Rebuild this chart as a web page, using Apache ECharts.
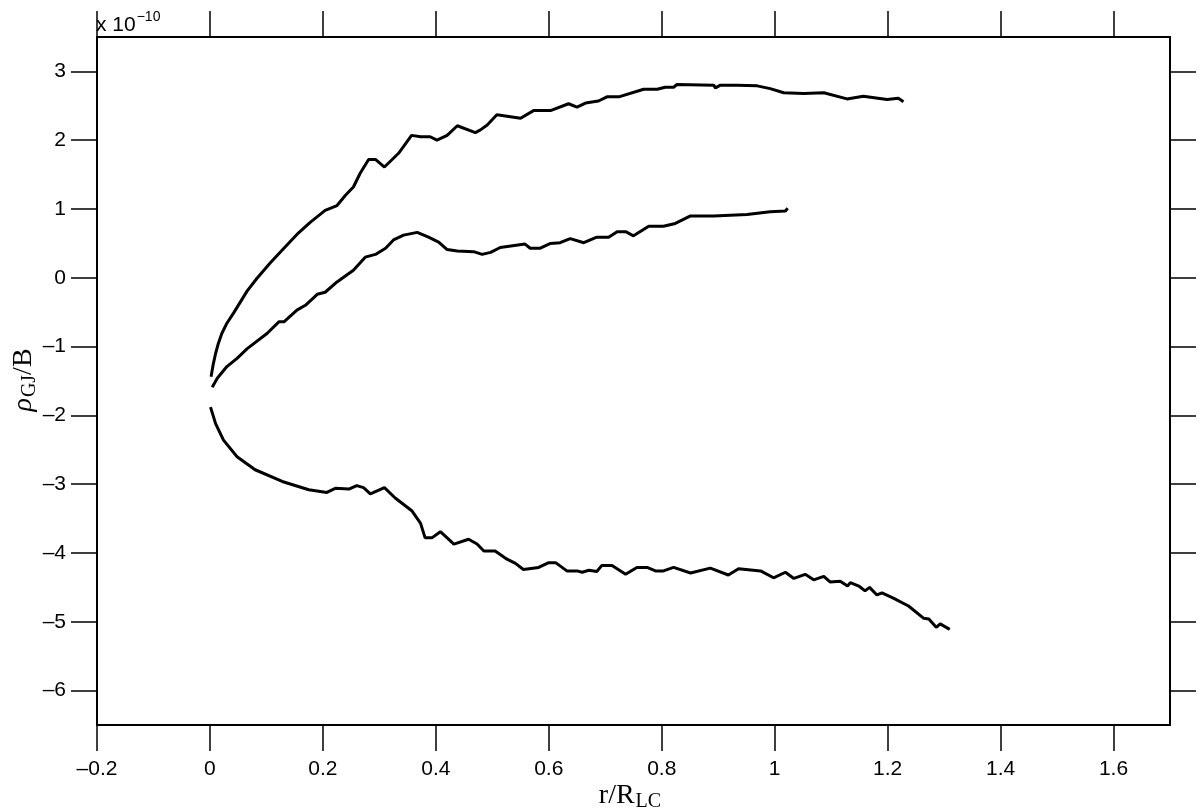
<!DOCTYPE html>
<html>
<head>
<meta charset="utf-8">
<title>rho_GJ / B</title>
<script src="https://cdn.jsdelivr.net/npm/echarts@6/dist/echarts.min.js"></script>
<style>
  html, body { margin: 0; padding: 0; background: #fff; }
  #chart { width: 1200px; height: 811px; }
</style>
</head>
<body>
<div id="chart"></div>
<script>
// values in units of 1e-10
const upperX = [0.002,0.0055,0.010,0.015,0.021,0.030,0.042,0.054,0.066,0.083,0.107,0.131,0.154,0.178,0.204,0.225,0.240,0.254,0.266,0.281,0.293,0.309,0.334,0.357,0.373,0.390,0.402,0.420,0.438,0.470,0.479,0.491,0.508,0.550,0.573,0.603,0.635,0.650,0.665,0.688,0.703,0.724,0.768,0.792,0.806,0.821,0.827,0.892,0.895,0.904,0.933,0.969,0.992,1.016,1.051,1.087,1.128,1.157,1.199,1.219,1.228]
const upperY = [-1.44,-1.27,-1.10,-0.95,-0.81,-0.66,-0.51,-0.35,-0.19,-0.01,0.22,0.43,0.63,0.81,0.98,1.05,1.20,1.32,1.52,1.72,1.72,1.61,1.81,2.07,2.05,2.05,2.00,2.07,2.21,2.11,2.15,2.22,2.37,2.32,2.43,2.43,2.53,2.48,2.54,2.57,2.63,2.63,2.74,2.74,2.77,2.77,2.81,2.80,2.76,2.80,2.80,2.79,2.75,2.69,2.68,2.69,2.60,2.64,2.59,2.61,2.56]

const middleX = [0.004,0.013,0.030,0.048,0.066,0.101,0.122,0.131,0.154,0.169,0.190,0.204,0.225,0.254,0.275,0.293,0.311,0.325,0.343,0.367,0.387,0.405,0.420,0.438,0.467,0.482,0.497,0.514,0.558,0.567,0.585,0.603,0.620,0.638,0.662,0.685,0.706,0.721,0.736,0.750,0.777,0.803,0.824,0.851,0.892,0.951,0.992,1.019,1.023]
const middleY = [-1.59,-1.46,-1.29,-1.17,-1.03,-0.81,-0.64,-0.64,-0.47,-0.40,-0.24,-0.21,-0.06,0.11,0.30,0.34,0.43,0.55,0.62,0.66,0.59,0.52,0.41,0.39,0.38,0.34,0.37,0.44,0.49,0.43,0.43,0.50,0.51,0.57,0.51,0.59,0.59,0.67,0.67,0.61,0.75,0.75,0.79,0.90,0.90,0.92,0.96,0.97,1.01]

const lowerX = [0.001,0.010,0.024,0.048,0.080,0.128,0.175,0.207,0.222,0.246,0.260,0.272,0.284,0.309,0.328,0.358,0.373,0.381,0.393,0.408,0.432,0.458,0.473,0.485,0.505,0.526,0.541,0.555,0.582,0.600,0.612,0.632,0.650,0.659,0.671,0.685,0.694,0.712,0.736,0.756,0.774,0.789,0.803,0.821,0.851,0.886,0.918,0.936,0.975,0.998,1.019,1.034,1.054,1.069,1.087,1.098,1.116,1.129,1.134,1.149,1.160,1.168,1.181,1.190,1.211,1.237,1.264,1.273,1.286,1.293,1.310]
const lowerY = [-1.88,-2.12,-2.36,-2.60,-2.79,-2.96,-3.08,-3.12,-3.06,-3.07,-3.02,-3.05,-3.14,-3.05,-3.20,-3.39,-3.57,-3.78,-3.78,-3.69,-3.87,-3.80,-3.87,-3.97,-3.97,-4.09,-4.15,-4.24,-4.21,-4.14,-4.14,-4.26,-4.26,-4.28,-4.25,-4.27,-4.18,-4.18,-4.31,-4.21,-4.21,-4.26,-4.26,-4.21,-4.29,-4.22,-4.32,-4.23,-4.26,-4.36,-4.28,-4.37,-4.31,-4.39,-4.34,-4.42,-4.41,-4.48,-4.43,-4.48,-4.55,-4.50,-4.61,-4.58,-4.66,-4.77,-4.95,-4.96,-5.08,-5.03,-5.11]

const xTicks = [-0.2,0,0.2,0.4,0.6,0.8,1,1.2,1.4,1.6]
const yTicks = [-6,-5,-4,-3,-2,-1,0,1,2,3]

function pairs(xs, ys){
  let out = []
  for(let i=0;i<xs.length;i++){
    out.push([xs[i], ys[i]])
  }
  return out
}

function fmt(v){
  return String(v).replace('-', '\u2013')
}

const labelFont = {
  color: '#000',
  fontFamily: 'Liberation Sans, Arial, Helvetica, sans-serif',
  fontSize: 21
}

function axisBase(showLabel, margin, ticks){
  return {
    type: 'value',
    axisLine: { show: true, onZero: false, lineStyle: { color: '#000', width: 2 } },
    axisTick: { show: true, inside: false, length: 26, customValues: ticks, lineStyle: { color: '#000', width: 1.5 } },
    axisLabel: Object.assign({ show: showLabel, margin: margin, customValues: ticks, formatter: fmt }, labelFont),
    splitLine: { show: false }
  }
}

let chart = echarts.init(document.getElementById('chart'))

let xBottom = axisBase(true, 34, xTicks)
xBottom.position = 'bottom'
xBottom.min = -0.2
xBottom.max = 1.7
let xTop = axisBase(false, 34, xTicks)
xTop.position = 'top'
xTop.min = -0.2
xTop.max = 1.7

let yLeft = axisBase(true, 31, yTicks)
yLeft.position = 'left'
yLeft.min = -6.5
yLeft.max = 3.5
let yRight = axisBase(false, 31, yTicks)
yRight.position = 'right'
yRight.min = -6.5
yRight.max = 3.5

const lineStyle = { color: '#000', width: 3 }

let option = {
  animation: false,
  backgroundColor: '#fff',
  grid: { left: 97, right: 30, top: 37, bottom: 86, containLabel: false },
  xAxis: [xBottom, xTop],
  yAxis: [yLeft, yRight],
  series: [
    { name: 'upper', type: 'line', showSymbol: false, symbol: 'none', lineStyle: lineStyle, data: pairs(upperX, upperY) },
    { name: 'middle', type: 'line', showSymbol: false, symbol: 'none', lineStyle: lineStyle, data: pairs(middleX, middleY) },
    { name: 'lower', type: 'line', showSymbol: false, symbol: 'none', lineStyle: lineStyle, data: pairs(lowerX, lowerY) }
  ],
  graphic: [
    {
      // exponent of the y axis
      type: 'text', left: 96, top: 10,
      style: {
        text: '{a|x 10}{s|\u221210}',
        rich: {
          a: { fontFamily: 'Liberation Sans, Arial, sans-serif', fontSize: 21, fill: '#000', verticalAlign: 'bottom', lineHeight: 25 },
          s: { fontFamily: 'Liberation Sans, Arial, sans-serif', fontSize: 14, fill: '#000', verticalAlign: 'top', padding: [0, 0, 12, 1] }
        }
      }
    },
    {
      // x axis title
      type: 'text', x: 630, y: 796,
      style: {
        text: '{m|r/R}{s|LC}',
        align: 'center', verticalAlign: 'middle',
        rich: {
          m: { fontFamily: 'Liberation Serif, Times New Roman, serif', fontSize: 28, fill: '#000' },
          s: { fontFamily: 'Liberation Serif, Times New Roman, serif', fontSize: 20, fill: '#000', padding: [11, 0, 0, 1] }
        }
      }
    },
    {
      // y axis title
      type: 'text', x: 24, y: 380, rotation: Math.PI / 2,
      style: {
        text: '{r|\u03c1}{s|GJ}{m|/B}',
        align: 'center', verticalAlign: 'middle',
        rich: {
          r: { fontFamily: 'Liberation Serif, Times New Roman, serif', fontStyle: 'italic', fontSize: 28, fill: '#000' },
          m: { fontFamily: 'Liberation Serif, Times New Roman, serif', fontSize: 28, fill: '#000' },
          s: { fontFamily: 'Liberation Serif, Times New Roman, serif', fontSize: 20, fill: '#000', padding: [11, 0, 0, 1] }
        }
      }
    }
  ]
}

chart.setOption(option)
</script>
</body>
</html>
